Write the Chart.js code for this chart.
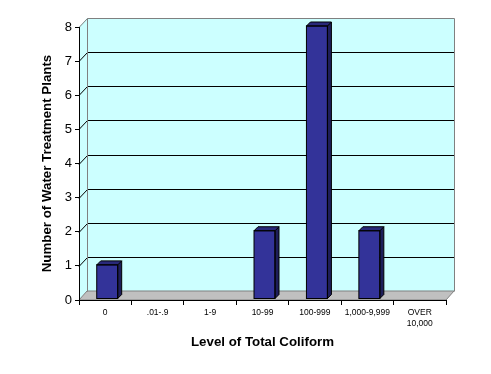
<!DOCTYPE html>
<html><head><meta charset="utf-8">
<script src="https://cdn.jsdelivr.net/npm/chart.js@4"></script>
<style>html,body{margin:0;padding:0;background:#fff}</style>
</head><body>
<canvas id="c" width="491" height="374" style="display:block;width:491px;height:374px"></canvas>
<script>
const categories = ['0', '.01-.9', '1-9', '10-99', '100-999', '1,000-9,999', ['OVER', '10,000']];
const plantCounts = [1, 0, 0, 2, 8, 2, 0];
const yTickValues = [0, 1, 2, 3, 4, 5, 6, 7, 8];
const yTitle = 'Number of Water Treatment Plants';
const xTitle = 'Level of Total Coliform';

const WALL_DX = 8, WALL_DY = 9;   // depth of the 3D wall
const BAR_D = 4;                  // depth of the 3D bars
const BAR_SHIFT_X = 2, BAR_SHIFT_Y = -1;

function px(v){ return Math.round(v) + 0.5; }

const threeD = {
  id: 'threeD',
  beforeDraw(chart) {
    const {ctx, chartArea: a, scales: {y}} = chart;
    const L = a.left, R = a.right, T = a.top, B = a.bottom;
    ctx.save();
    ctx.fillStyle = '#CCFFFF';
    ctx.fillRect(L + WALL_DX, T - WALL_DY, R - L, B - T);
    ctx.beginPath();
    ctx.moveTo(L, T); ctx.lineTo(L + WALL_DX, T - WALL_DY);
    ctx.lineTo(L + WALL_DX, B - WALL_DY); ctx.lineTo(L, B); ctx.closePath();
    ctx.fill();
    ctx.fillStyle = '#C0C0C0';
    ctx.beginPath();
    ctx.moveTo(L, B); ctx.lineTo(L + WALL_DX, B - WALL_DY);
    ctx.lineTo(R + WALL_DX, B - WALL_DY); ctx.lineTo(R, B); ctx.closePath();
    ctx.fill();
    ctx.strokeStyle = '#808080'; ctx.lineWidth = 1;
    ctx.stroke();
    yTickValues.forEach(v => {
      if (v === 0) return;
      const yy = Math.round(y.getPixelForValue(v));
      ctx.strokeStyle = (v === yTickValues[yTickValues.length - 1]) ? '#808080' : '#000';
      ctx.beginPath();
      ctx.moveTo(L, yy + 0.5);
      ctx.lineTo(px(L + WALL_DX), yy - WALL_DY + 0.5);
      ctx.lineTo(px(R + WALL_DX), yy - WALL_DY + 0.5);
      ctx.stroke();
    });
    ctx.strokeStyle = '#808080';
    ctx.beginPath();
    ctx.moveTo(px(L + WALL_DX), px(B - WALL_DY));
    ctx.lineTo(px(L + WALL_DX), px(T - WALL_DY));
    ctx.moveTo(px(R + WALL_DX), px(T - WALL_DY));
    ctx.lineTo(px(R + WALL_DX), px(B - WALL_DY));
    ctx.stroke();
    ctx.restore();
  },
  beforeDatasetsDraw(chart) {
    chart.ctx.save();
    chart.ctx.translate(BAR_SHIFT_X, BAR_SHIFT_Y);
  },
  afterDatasetsDraw(chart) {
    const ctx = chart.ctx;
    const meta = chart.getDatasetMeta(0);
    meta.data.forEach((bar, i) => {
      if (!plantCounts[i]) return;
      const {x, y, base, width} = bar.getProps(['x', 'y', 'base', 'width'], true);
      const x0 = x - width / 2, x1 = x + width / 2;
      ctx.lineWidth = 1;
      ctx.strokeStyle = '#000';
      ctx.fillStyle = '#1E1E5A';
      ctx.beginPath();
      ctx.moveTo(x1, y); ctx.lineTo(x1 + BAR_D, y - BAR_D);
      ctx.lineTo(x1 + BAR_D, base - BAR_D); ctx.lineTo(x1, base); ctx.closePath();
      ctx.fill(); ctx.stroke();
      ctx.fillStyle = '#29297A';
      ctx.beginPath();
      ctx.moveTo(x0, y); ctx.lineTo(x0 + BAR_D, y - BAR_D);
      ctx.lineTo(x1 + BAR_D, y - BAR_D); ctx.lineTo(x1, y); ctx.closePath();
      ctx.fill(); ctx.stroke();
      ctx.strokeRect(x0, y, width, base - y);
    });
    ctx.restore();
  }
};

new Chart(document.getElementById('c'), {
  type: 'bar',
  data: {
    labels: categories,
    datasets: [{
      data: plantCounts,
      backgroundColor: '#333399',
      borderWidth: 0,
      barPercentage: 0.4,
      categoryPercentage: 1.0,
      clip: false
    }]
  },
  options: {
    responsive: false,
    devicePixelRatio: 1,
    animation: false,
    events: [],
    layout: { padding: { left: 39, top: 27, right: 45, bottom: 0 } },
    plugins: { legend: { display: false }, tooltip: { enabled: false } },
    scales: {
      x: {
        afterFit(s) { s.height = 74; },
        grid: { offset: true, drawOnChartArea: false, tickLength: 5, color: '#000' },
        border: { color: '#000', width: 1 },
        ticks: {
          font: { family: 'Liberation Sans, Arial', size: 8.5 },
          color: '#000', maxRotation: 0, autoSkip: false, padding: 3
        },
        title: {
          display: true, text: xTitle, color: '#000',
          font: { family: 'Liberation Sans, Arial', size: 13.3, weight: 'bold' },
          padding: { top: 0, bottom: 24 }
        }
      },
      y: {
        min: 0, max: 8,
        afterFit(s) { s.width = 40; },
        afterBuildTicks(s) { s.ticks = yTickValues.map(v => ({ value: v })); },
        grid: { drawOnChartArea: false, tickLength: 4, color: '#000' },
        border: { color: '#000', width: 1 },
        ticks: {
          font: { family: 'Liberation Sans, Arial', size: 13 },
          color: '#000', padding: 3
        },
        title: {
          display: true, text: yTitle, color: '#000',
          font: { family: 'Liberation Sans, Arial', size: 13.3, weight: 'bold' },
          padding: { top: 0, bottom: 0 }
        }
      }
    }
  },
  plugins: [threeD]
});
</script>
</body></html>
